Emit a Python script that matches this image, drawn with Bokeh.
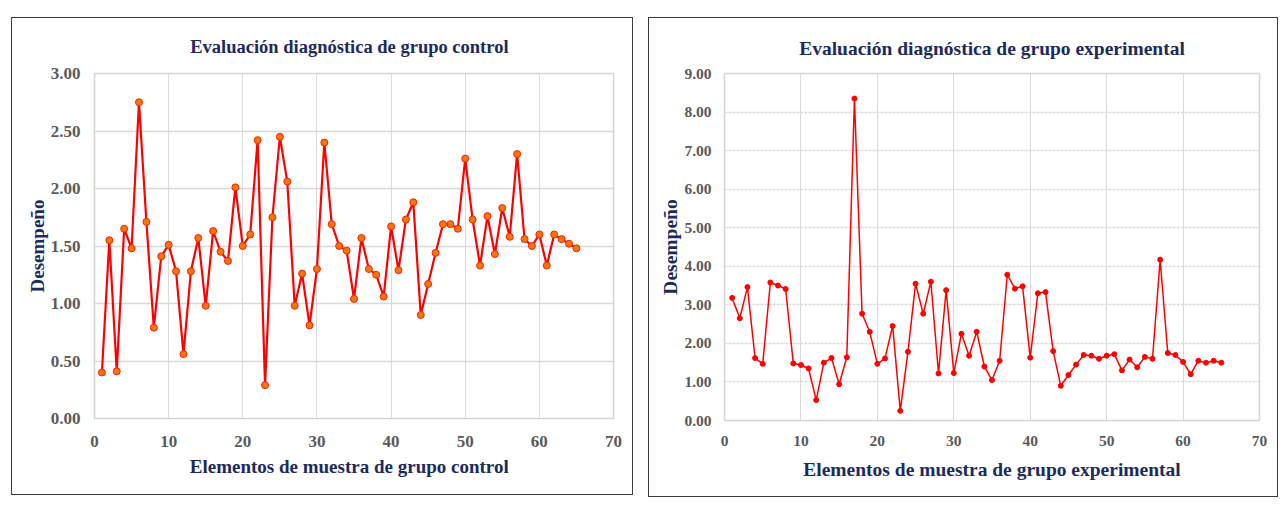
from bokeh.plotting import figure
from bokeh.layouts import row
from bokeh.models import Range1d, FixedTicker, NumeralTickFormatter
from bokeh.embed import file_html
from bokeh.resources import INLINE

elementos = list(range(1, 66))

control = [0.40, 1.55, 0.41, 1.65, 1.48, 2.75, 1.71, 0.79, 1.41, 1.51,
           1.28, 0.56, 1.28, 1.57, 0.98, 1.63, 1.45, 1.37, 2.01, 1.50,
           1.60, 2.42, 0.29, 1.75, 2.45, 2.06, 0.98, 1.26, 0.81, 1.30,
           2.40, 1.69, 1.50, 1.46, 1.04, 1.57, 1.30, 1.25, 1.06, 1.67,
           1.29, 1.73, 1.88, 0.90, 1.17, 1.44, 1.69, 1.69, 1.65, 2.26,
           1.73, 1.33, 1.76, 1.43, 1.83, 1.58, 2.30, 1.56, 1.50, 1.60,
           1.33, 1.60, 1.56, 1.52, 1.48]

experimental = [3.18, 2.65, 3.46, 1.62, 1.47, 3.58, 3.50, 3.41, 1.48, 1.44,
                1.35, 0.53, 1.50, 1.62, 0.94, 1.64, 8.35, 2.77, 2.30, 1.47,
                1.61, 2.45, 0.25, 1.78, 3.55, 2.77, 3.60, 1.22, 3.38, 1.23,
                2.25, 1.68, 2.30, 1.40, 1.05, 1.55, 3.78, 3.42, 3.48, 1.63,
                3.30, 3.33, 1.80, 0.90, 1.18, 1.45, 1.70, 1.68, 1.60, 1.68,
                1.72, 1.30, 1.58, 1.38, 1.65, 1.60, 4.17, 1.75, 1.70, 1.52,
                1.20, 1.55, 1.50, 1.55, 1.50]

x_ticks = [0, 10, 20, 30, 40, 50, 60, 70]
y_ticks_control = [0, 0.5, 1.0, 1.5, 2.0, 2.5, 3.0]
y_ticks_experimental = [0, 1, 2, 3, 4, 5, 6, 7, 8, 9]

titulo_control = "Evaluación diagnóstica  de grupo  control"
titulo_experimental = "Evaluación diagnóstica de grupo experimental"
xlabel_control = "Elementos de muestra  de grupo  control"
xlabel_experimental = "Elementos de muestra de grupo experimental"
ylabel = "Desempeño"

NAVY = "#1c2a5e"
GREY = "#5a5a5a"
FONT = "Liberation Serif"


def make_fig(width, height, ymax, yticks, title, xlabel, title_size, label_size,
             tick_size, borders, margin, title_standoff, xtick_standoff,
             ytick_standoff, xlab_standoff, ylab_standoff):
    p = figure(width=width, height=height, output_backend="svg",
               toolbar_location=None, x_range=Range1d(0, 70),
               y_range=Range1d(0, ymax), title=title)
    p.min_border_left, p.min_border_top, p.min_border_right, p.min_border_bottom = borders
    p.margin = margin
    p.styles = {"border": "1.5px solid #3a3a3a", "box-sizing": "border-box"}
    p.background_fill_color = "white"
    p.border_fill_color = "white"
    p.outline_line_color = "#d4d4d4"
    p.outline_line_width = 1.5

    p.title.align = "center"
    p.title.text_font = FONT
    p.title.text_font_size = title_size
    p.title.text_font_style = "bold"
    p.title.text_color = NAVY
    p.title.standoff = title_standoff

    for ax in (p.xaxis[0], p.yaxis[0]):
        ax.axis_line_color = None
        ax.major_tick_line_color = None
        ax.minor_tick_line_color = None
        ax.major_label_text_font = FONT
        ax.major_label_text_font_style = "bold"
        ax.major_label_text_color = GREY
        ax.major_label_text_font_size = tick_size
        ax.axis_label_text_font = FONT
        ax.axis_label_text_font_style = "bold"
        ax.axis_label_text_color = NAVY
        ax.axis_label_text_font_size = label_size

    p.xaxis.ticker = FixedTicker(ticks=x_ticks)
    p.yaxis.ticker = FixedTicker(ticks=yticks)
    p.yaxis.formatter = NumeralTickFormatter(format="0.00")
    p.xaxis.axis_label = xlabel
    p.yaxis.axis_label = ylabel
    p.xaxis.major_label_standoff = xtick_standoff
    p.yaxis.major_label_standoff = ytick_standoff
    p.xaxis.axis_label_standoff = xlab_standoff
    p.yaxis.axis_label_standoff = ylab_standoff

    p.xgrid.grid_line_color = "#d9d9d9"
    p.ygrid.grid_line_color = "#d9d9d9"
    p.xgrid.grid_line_width = 1
    p.ygrid.grid_line_width = 1.5
    return p


p1 = make_fig(622, 478, 3.0, y_ticks_control, titulo_control, xlabel_control,
              "18.5px", "19px", "17px", (82, 40, 21, 78), (17, 0, 0, 11), 33,
              11, 8, 6, 0)
p1.line(elementos, control, line_color="#ff0000", line_width=2.2)
p1.scatter(elementos, control, size=7, fill_color="#f07810", line_color="#ff2000",
           line_width=1)

p2 = make_fig(630, 480, 9.0, y_ticks_experimental, titulo_experimental,
              xlabel_experimental, "19.5px", "19.5px", "15.5px", (75, 40, 20, 70),
              (17, 0, 0, 15), 30, 9, 7, 10, 0)
p2.ygrid.grid_line_dash = "3 1"
p2.ygrid.grid_line_color = "#dcdcdc"
p2.line(elementos, experimental, line_color="#ff0000", line_width=1.5)
p2.scatter(elementos, experimental, size=5, fill_color="#ff0000",
           line_color="#ff0000")

layout = row(p1, p2)
open("out.html", "w").write(file_html(layout, INLINE))
